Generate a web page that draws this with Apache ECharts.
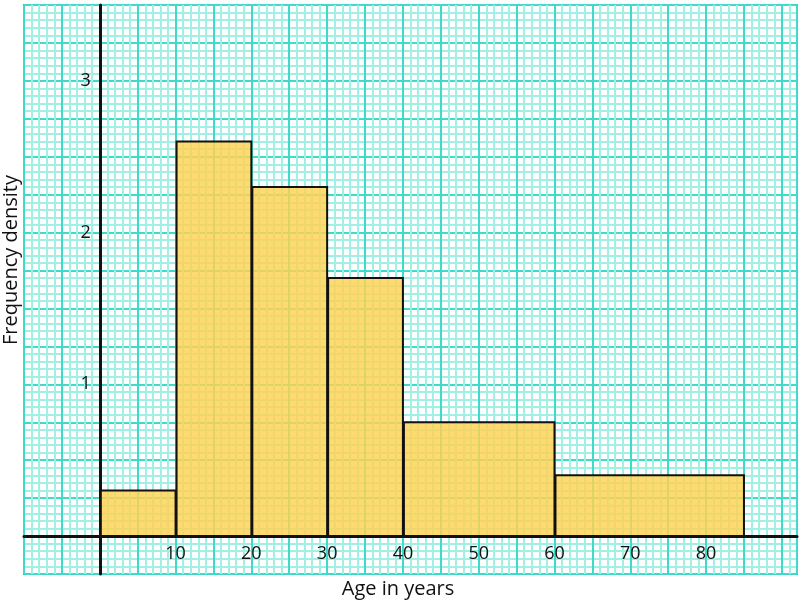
<!DOCTYPE html>
<html>
<head>
<meta charset="utf-8">
<script src="https://cdn.jsdelivr.net/npm/echarts@6/dist/echarts.min.js"></script>
<style>
html,body{margin:0;padding:0;background:#fff;}
#c{width:800px;height:603px;}
</style>
</head>
<body>
<div id="c"></div>
<script>
// Data
const classStart = [0, 10, 20, 30, 40, 60];
const classEnd = [10, 20, 30, 40, 60, 85];
const freqDensity = [0.3, 2.6, 2.3, 1.7, 0.75, 0.4];
const xTickLabels = [10, 20, 30, 40, 50, 60, 70, 80];
const yTickLabels = [1, 2, 3];
const xTitle = 'Age in years';
const yTitle = 'Frequency density';

const X_MIN = -10, X_MAX = 92, Y_MIN = -0.25, Y_MAX = 3.5;
const GRID = {left: 24, top: 5, width: 773, height: 569};
const FONT = '"Open Sans", "Noto Sans", sans-serif';
const MINOR = '#a2efe6';
const MAJOR = '#3fdac9';

// distance of the zero lines from the grid's bottom/left edges (so the axes sit on zero)
const xAxisOffset = -(0 - Y_MIN) / (Y_MAX - Y_MIN) * GRID.height;
const yAxisOffset = -(0 - X_MIN) / (X_MAX - X_MIN) * GRID.width;

const chart = echarts.init(document.getElementById('c'));

function gridAxisX(interval, color, width) {
  return {
    type: 'value', min: X_MIN, max: X_MAX, interval: interval, position: 'bottom',
    axisLine: {show: false}, axisTick: {show: false}, axisLabel: {show: false},
    splitLine: {show: true, lineStyle: {color: color, width: width}}
  };
}
function gridAxisY(interval, color, width) {
  return {
    type: 'value', min: Y_MIN, max: Y_MAX, interval: interval, position: 'left',
    axisLine: {show: false}, axisTick: {show: false}, axisLabel: {show: false},
    splitLine: {show: true, lineStyle: {color: color, width: width}}
  };
}

const barData = classStart.map((s, i) => [s, classEnd[i], freqDensity[i]]);

const option = {
  animation: false,
  backgroundColor: '#ffffff',
  grid: Object.assign({show: true, containLabel: false, outerBoundsMode: 'none',
         backgroundColor: '#ffffff', borderColor: '#8c8c8c', borderWidth: 2}, GRID),
  xAxis: [
    gridAxisX(1, MINOR, 2),
    gridAxisX(5, MAJOR, 2),
    {
      type: 'value', min: X_MIN, max: X_MAX, interval: 10, position: 'bottom',
      offset: xAxisOffset,
      axisLine: {show: true, onZero: false, lineStyle: {color: '#111', width: 3}},
      axisTick: {show: false},
      splitLine: {show: false},
      axisLabel: {
        show: true, margin: 9, color: '#111', fontSize: 18, fontFamily: FONT,
        formatter: v => xTickLabels.indexOf(Math.round(v)) >= 0 && Math.abs(v - Math.round(v)) < 1e-6 ? String(Math.round(v)) : ''
      }
    }
  ],
  yAxis: [
    gridAxisY(0.05, MINOR, 2),
    gridAxisY(0.25, MAJOR, 2),
    {
      type: 'value', min: Y_MIN, max: Y_MAX, interval: 0.25, position: 'left',
      offset: yAxisOffset,
      axisLine: {show: true, onZero: false, lineStyle: {color: '#111', width: 3}},
      axisTick: {show: false},
      splitLine: {show: false},
      axisLabel: {
        show: true, margin: 9, color: '#111', fontSize: 18, fontFamily: FONT, interval: 0,
        formatter: v => {
          const r = Math.round(v);
          return (Math.abs(v - r) < 1e-6 && yTickLabels.indexOf(r) >= 0) ? String(r) : '';
        }
      }
    }
  ],
  series: [{
    type: 'custom',
    xAxisIndex: 0, yAxisIndex: 0,
    z: 3,
    data: barData,
    renderItem: function (params, api) {
      const p0 = api.coord([api.value(0), api.value(2)]);
      const p1 = api.coord([api.value(1), 0]);
      return {
        type: 'rect',
        shape: {x: p0[0] + 1, y: p0[1], width: p1[0] - p0[0] - 1, height: p1[1] - p0[1]},
        style: {fill: 'rgba(255,210,80,0.82)', stroke: '#111', lineWidth: 2}
      };
    }
  }],
  graphic: [
    {type: 'text', x: 398, y: 589,
     style: {text: xTitle, fill: '#111', font: '20px ' + FONT, align: 'center', verticalAlign: 'middle'}},
    {type: 'text', x: 11, y: 260, rotation: Math.PI / 2,
     style: {text: yTitle, fill: '#111', font: '20px ' + FONT, align: 'center', verticalAlign: 'middle'}}
  ]
};
chart.setOption(option);
</script>
</body>
</html>
